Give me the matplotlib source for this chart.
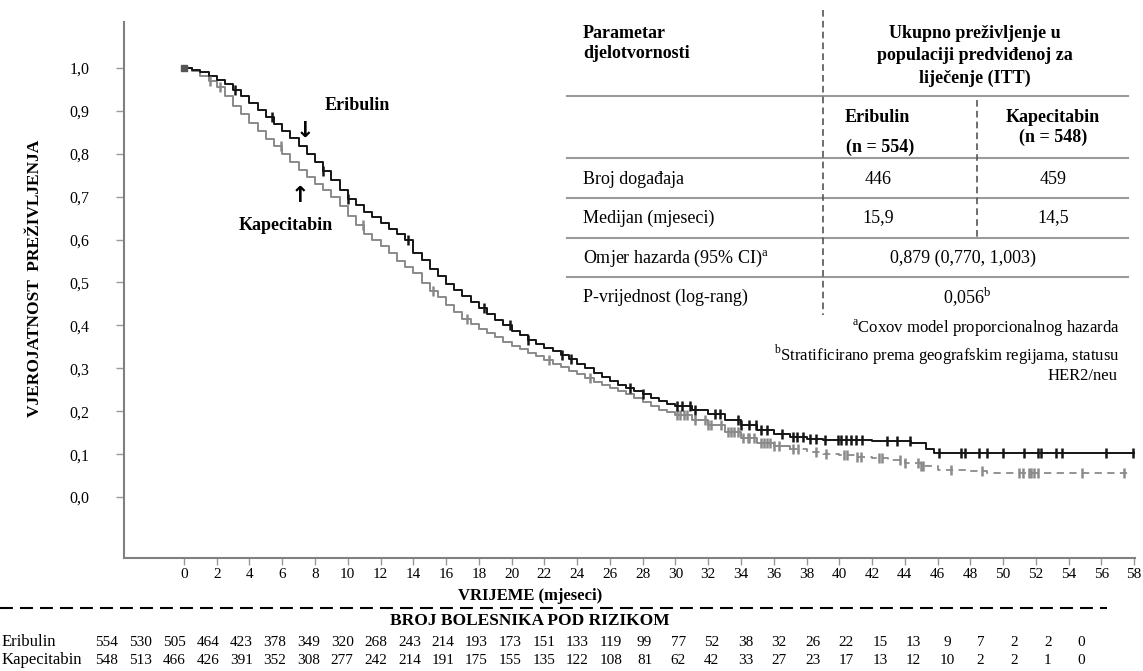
import numpy as np
import matplotlib.pyplot as plt
from matplotlib.lines import Line2D

plt.rcParams['font.family'] = ['Liberation Serif', 'DejaVu Serif']
plt.rcParams['mathtext.fontset'] = 'custom'
plt.rcParams['mathtext.rm'] = 'Liberation Serif'

W, H = 1143, 671

# Kaplan-Meier curves (time in months, survival probability)
eri_t = [0.0, 0.5, 1.0, 1.5, 2.0, 2.5, 3.0, 3.5, 4.0, 4.5, 5.0, 5.5, 6.0, 6.5, 7.0, 7.5,
         8.0, 8.5, 9.0, 9.5, 10.0, 10.5, 11.0, 11.5, 12.0, 12.5, 13.0, 13.5, 14.0, 14.5,
         15.0, 15.5, 16.0, 16.5, 17.0, 17.5, 18.0, 18.5, 19.0, 19.5, 20.0, 20.5, 21.0,
         21.5, 22.0, 22.5, 23.0, 23.5, 24.0, 24.5, 25.0, 25.5, 26.0, 26.5, 27.0, 27.5,
         28.0, 28.5, 29.0, 29.5, 30.0, 31, 32, 33, 34, 35, 36, 37, 38, 39, 40, 41, 42,
         43, 44.4, 45.3, 45.8, 58.0]
eri_s = [1.000, 0.995, 0.990, 0.982, 0.973, 0.962, 0.948, 0.934, 0.918, 0.902, 0.886,
         0.870, 0.853, 0.836, 0.818, 0.800, 0.780, 0.760, 0.738, 0.715, 0.695, 0.680,
         0.665, 0.652, 0.638, 0.625, 0.612, 0.598, 0.568, 0.552, 0.532, 0.515, 0.496,
         0.482, 0.468, 0.454, 0.440, 0.426, 0.413, 0.400, 0.388, 0.377, 0.366, 0.357,
         0.348, 0.340, 0.332, 0.321, 0.310, 0.300, 0.290, 0.280, 0.270, 0.262, 0.254,
         0.247, 0.240, 0.232, 0.224, 0.218, 0.212, 0.204, 0.194, 0.180, 0.168, 0.157,
         0.147, 0.139, 0.136, 0.134, 0.133, 0.132, 0.131, 0.130, 0.126, 0.113, 0.103,
         0.103]

cap_t = [0.0, 0.5, 1.0, 1.5, 2.0, 2.5, 3.0, 3.5, 4.0, 4.5, 5.0, 5.5, 6.0, 6.5, 7.0, 7.5,
         8.0, 8.5, 9.0, 9.5, 10.0, 10.5, 11.0, 11.5, 12.0, 12.5, 13.0, 13.5, 14.0, 14.5,
         15.0, 15.5, 16.0, 16.5, 17.0, 17.5, 18.0, 18.5, 19.0, 19.5, 20.0, 20.5, 21.0,
         21.5, 22.0, 22.5, 23.0, 23.5, 24.0, 24.5, 25.0, 25.5, 26.0, 26.5, 27.0, 27.5,
         28.0, 28.5, 29.0, 29.5, 30.0, 31, 32, 33, 34, 35, 36, 37, 38, 39, 40, 41, 42,
         43, 44, 45, 46, 47, 48, 49, 57.6]
cap_s = [1.000, 0.992, 0.982, 0.970, 0.955, 0.935, 0.912, 0.893, 0.872, 0.853, 0.835,
         0.818, 0.800, 0.781, 0.762, 0.746, 0.730, 0.715, 0.700, 0.678, 0.655, 0.634,
         0.612, 0.598, 0.585, 0.568, 0.550, 0.537, 0.522, 0.498, 0.480, 0.466, 0.448,
         0.432, 0.415, 0.403, 0.392, 0.382, 0.372, 0.362, 0.352, 0.344, 0.336, 0.328,
         0.320, 0.311, 0.302, 0.294, 0.286, 0.277, 0.268, 0.262, 0.255, 0.248, 0.240,
         0.231, 0.222, 0.213, 0.204, 0.198, 0.192, 0.180, 0.167, 0.152, 0.137, 0.126,
         0.120, 0.112, 0.106, 0.101, 0.097, 0.094, 0.090, 0.086, 0.080, 0.072, 0.064,
         0.062, 0.060, 0.055, 0.055]

# censored observations (months)
eri_cens = [3.1, 5.4, 8.5, 10.0, 13.7, 18.3, 19.9, 21.0, 23.1, 23.6, 27.2, 28.0, 30.1,
            30.4, 30.9, 31.2, 32.4, 32.7, 33.8, 34.0, 34.5, 34.9, 35.2, 35.6, 36.5, 37.2,
            37.4, 37.8, 38.2, 38.6, 39.1, 39.9, 40.1, 40.4, 40.7, 41.0, 41.4, 42.9, 43.5,
            44.3, 46.1, 47.4, 47.7, 48.5, 49.0, 50.0, 51.3, 52.1, 52.3, 53.2, 53.6, 56.3,
            57.9]
cap_cens = [1.6, 2.2, 5.9, 10.9, 15.2, 17.3, 22.3, 24.8, 30.1, 30.3, 30.5, 30.7, 31.2,
            31.8, 32.0, 32.2, 32.8, 33.2, 33.4, 33.6, 33.8, 34.1, 34.4, 34.5, 34.8, 35.2,
            35.4, 35.6, 35.8, 36.0, 36.3, 37.2, 37.5, 38.6, 39.2, 40.3, 40.5, 41.1, 41.3,
            42.4, 42.6, 43.7, 44.0, 44.8, 45.0, 45.1, 46.8, 48.7, 51.0, 51.2, 51.6, 51.7,
            51.9, 52.1, 54.8, 57.4]
cap_dash_from = 37

# patients at risk
risk_months = list(range(0, 60, 2))
eri_risk = [554, 530, 505, 464, 423, 378, 349, 320, 268, 243, 214, 193, 173, 151, 133,
            119, 99, 77, 52, 38, 32, 26, 22, 15, 13, 9, 7, 2, 2, 0]
cap_risk = [548, 513, 466, 426, 391, 352, 308, 277, 242, 214, 191, 175, 155, 135, 122,
            108, 81, 62, 42, 33, 27, 23, 17, 13, 12, 10, 2, 2, 1, 0]

y_ticks = [0.0, 0.1, 0.2, 0.3, 0.4, 0.5, 0.6, 0.7, 0.8, 0.9, 1.0]

BLACK = '#151515'
GREY = '#8a8a8a'


def step_value(t, ts, ss):
    i = np.searchsorted(ts, t, side='right') - 1
    return ss[i]


def ft(x, y, s, **kw):
    # text placed in figure pixels, measured from the top-left corner
    kw.setdefault('va', 'center')
    fig.text(x / W, 1 - y / H, s, **kw)


fig = plt.figure(figsize=(W / 100, H / 100), dpi=100)
ax = fig.add_axes([124 / W, 1 - 558 / H, (1135 - 124) / W, (558 - 22) / H])
ax.set_xlim(-3.66, 58.05)
ax.set_ylim(-0.142, 1.107)

eri_t = np.array(eri_t); eri_s = np.array(eri_s)
cap_t = np.array(cap_t); cap_s = np.array(cap_s)

ax.plot(eri_t, eri_s, drawstyle='steps-post', color=BLACK, lw=1.4, zorder=3)
solid = cap_t <= cap_dash_from
ax.plot(cap_t[solid], cap_s[solid], drawstyle='steps-post', color=GREY, lw=1.4, zorder=2)
ax.plot(cap_t[cap_t >= cap_dash_from], cap_s[cap_t >= cap_dash_from],
        drawstyle='steps-post', color=GREY, lw=1.3, ls=(0, (4, 3)), zorder=2)

ax.plot(eri_cens, [step_value(t, eri_t, eri_s) for t in eri_cens], ls='none',
        marker='|', ms=7, mew=1.8, color=BLACK, zorder=4)
ax.plot(cap_cens, [step_value(t, cap_t, cap_s) for t in cap_cens], ls='none',
        marker='|', ms=7, mew=1.8, color=GREY, zorder=3)
ax.plot([0], [1.0], ls='none', marker='s', ms=5, color='#555555', zorder=5)

for side in ('top', 'right'):
    ax.spines[side].set_visible(False)
for side in ('left', 'bottom'):
    ax.spines[side].set_color('#808080')
    ax.spines[side].set_linewidth(1.5)

ax.set_yticks(y_ticks)
ax.set_yticklabels([f'{v:.1f}'.replace('.', ',') for v in y_ticks], fontsize=11.5)
ax.set_xticks(risk_months)
ax.set_xticklabels([str(m) for m in risk_months], fontsize=11)
ax.tick_params(axis='y', length=6, width=1, color='#999999', pad=19)
ax.tick_params(axis='x', length=5, width=1, color='#999999', pad=2)

# curve labels
ft(357, 105, 'Eribulin', fontsize=13, fontweight='bold', ha='center')
ft(305, 131, '↓', fontsize=16, fontweight='bold', ha='center', family='DejaVu Sans')
ft(300, 196, '↑', fontsize=16, fontweight='bold', ha='center', family='DejaVu Sans')
ft(286, 225, 'Kapecitabin', fontsize=13, fontweight='bold', ha='center')

# axis titles
ft(35, 278, 'VJEROJATNOST  PREŽIVLJENJA', fontsize=12.5, fontweight='bold',
   ha='center', rotation=90)
ft(530, 596, 'VRIJEME (mjeseci)', fontsize=12, fontweight='bold', ha='center')

# at-risk table
fig.add_artist(Line2D([0, 1107 / W], [1 - 608 / H] * 2, color='black', lw=1.5,
                      ls=(0, (6.2, 3.4))))
ft(530, 621, 'BROJ BOLESNIKA POD RIZIKOM', fontsize=12.5, fontweight='bold', ha='center')
ft(2, 642, 'Eribulin', fontsize=12, ha='left')
ft(2, 660, 'Kapecitabin', fontsize=12, ha='left')
for i, (a, b) in enumerate(zip(eri_risk, cap_risk)):
    xc = 107 + i * 33.6
    ft(xc, 642, str(a), fontsize=11, ha='center')
    ft(xc, 660, str(b), fontsize=11, ha='center')

# summary table
for yl in (96, 158, 198, 238, 277):
    fig.add_artist(Line2D([567 / W, 1128 / W], [1 - yl / H] * 2, color='#9a9a9a', lw=1.5))
fig.add_artist(Line2D([823 / W] * 2, [1 - 10 / H, 1 - 315 / H], color='#555555', lw=1.2,
                      ls=(0, (4, 2.5))))
fig.add_artist(Line2D([977 / W] * 2, [1 - 100 / H, 1 - 238 / H], color='#555555', lw=1.2,
                      ls=(0, (4, 2.5))))

ft(583, 33, 'Parametar', fontsize=13, fontweight='bold', ha='left')
ft(583, 53, 'djelotvornosti', fontsize=13, fontweight='bold', ha='left')
ft(975, 33, 'Ukupno preživljenje u', fontsize=13, fontweight='bold', ha='center')
ft(975, 56, 'populaciji predviđenoj za', fontsize=13, fontweight='bold', ha='center')
ft(975, 78, 'liječenje (ITT)', fontsize=13, fontweight='bold', ha='center')
ft(877, 117, 'Eribulin', fontsize=13, fontweight='bold', ha='center')
ft(880, 147, '(n = 554)', fontsize=13, fontweight='bold', ha='center')
ft(1053, 117, 'Kapecitabin', fontsize=13, fontweight='bold', ha='center')
ft(1053, 137, '(n = 548)', fontsize=13, fontweight='bold', ha='center')

ft(583, 180, 'Broj događaja', fontsize=13, ha='left')
ft(878, 180, '446', fontsize=13, ha='center')
ft(1053, 180, '459', fontsize=13, ha='center')
ft(583, 218, 'Medijan (mjeseci)', fontsize=13, ha='left')
ft(878, 218, '15,9', fontsize=13, ha='center')
ft(1053, 218, '14,5', fontsize=13, ha='center')
ft(583, 258, r'Omjer hazarda (95% CI)$^{\mathrm{a}}$', fontsize=13, ha='left')
ft(963, 258, '0,879 (0,770, 1,003)', fontsize=13, ha='center')
ft(583, 297, 'P-vrijednost (log-rang)', fontsize=13, ha='left')
ft(967, 297, r'0,056$^{\mathrm{b}}$', fontsize=13, ha='center')

ft(1120, 328, r'$^{\mathrm{a}}$Coxov model proporcionalnog hazarda', fontsize=12, ha='right')
ft(1120, 355, r'$^{\mathrm{b}}$Stratificirano prema geografskim regijama, statusu',
   fontsize=12, ha='right')
ft(1118, 376, 'HER2/neu', fontsize=12, ha='right')

fig.savefig('out.png', dpi=100)
plt.close(fig)
